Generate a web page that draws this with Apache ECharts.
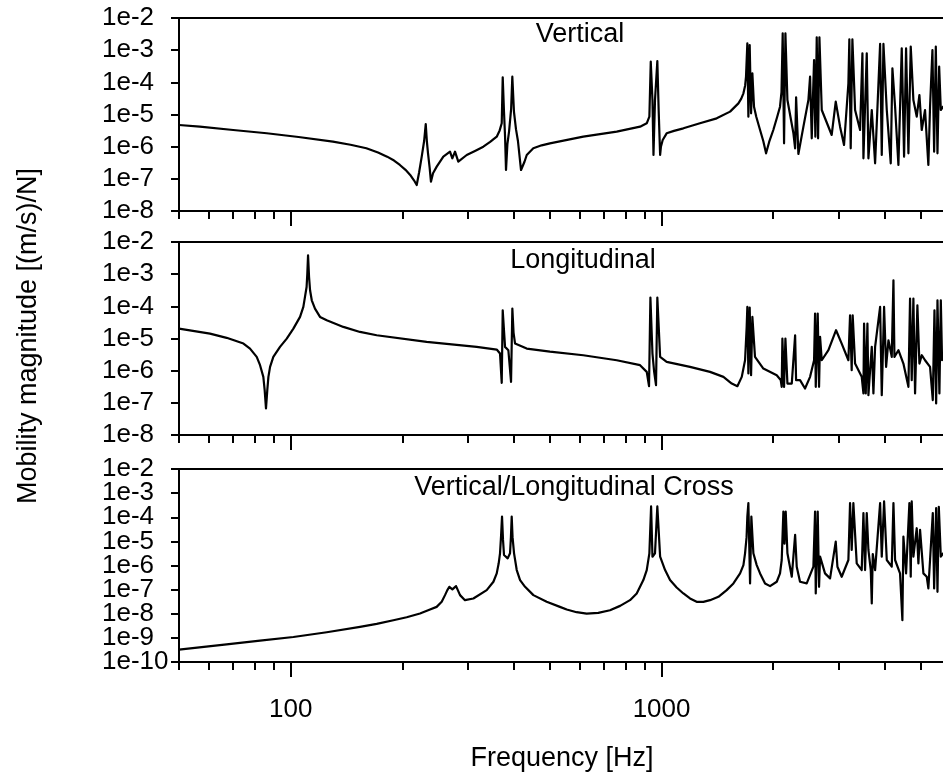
<!DOCTYPE html>
<html>
<head>
<meta charset="utf-8">
<script src="https://cdn.jsdelivr.net/npm/echarts@6/dist/echarts.min.js"></script>
<style>
  html, body { margin: 0; padding: 0; background: #fff; }
  #chart { width: 943px; height: 776px; }
</style>
</head>
<body>
<div id="chart"></div>
<script>
// Point mobility magnitudes [(m/s)/N] against frequency [Hz]

const vertFreq = [50, 56.9, 70, 86.2, 105, 130, 145, 160, 172, 182, 190, 197, 204, 210, 215, 218.7,
  222, 225.6, 229, 231.3, 233, 234.6, 237, 238.9, 242, 247.6, 258, 268.9, 272.8, 277.4, 283.1, 298.3,
  315, 330.7, 345, 359.4, 366, 370.7, 373, 376, 378.5, 380.7, 384, 388, 393, 395.9, 400, 405, 410,
  417.9, 427, 433, 451, 475, 500, 615, 757, 875, 912, 927, 935, 945, 951, 960, 974, 982, 991, 996,
  1007, 1032, 1080, 1145, 1269, 1408, 1530, 1611, 1640, 1662, 1680, 1689, 1703, 1714, 1728, 1743,
  1757, 1775, 1800, 1843, 1880, 1913, 1950, 2001, 2050, 2086, 2105, 2121, 2139, 2157, 2184,
  2267, 2291, 2305, 2338, 2412, 2488, 2514, 2540, 2577, 2598, 2620, 2642, 2664,
  2703, 2875, 2948, 3028, 3104, 3189, 3208, 3235, 3269, 3324, 3429, 3479, 3501, 3574, 3611, 3687, 3764,
  3883, 3923, 3964, 4047, 4148, 4191, 4261, 4350, 4441, 4506, 4562, 4629, 4696, 4774, 4874, 4956, 5028,
  5132, 5239, 5294, 5373, 5430, 5487, 5544, 5602, 5660, 5742, 5873];
const vertMag = [4.72e-6, 4.18e-6, 3.3e-6, 2.61e-6, 2.0e-6, 1.43e-6, 1.15e-6, 8.9e-7, 6.6e-7, 4.89e-7,
  3.7e-7, 2.7e-7, 1.9e-7, 1.32e-7, 9.0e-8, 6.44e-8,
  1.6e-7, 4.9e-7, 1.5e-6, 5.07e-6, 1.4e-6, 6.2e-7, 2.2e-7, 8.15e-8, 1.5e-7, 2.39e-7, 4.89e-7, 6.98e-7,
  4.35e-7, 6.98e-7, 3.41e-7, 5.51e-7,
  7.5e-7, 1.0e-6, 1.4e-6, 2.04e-6, 3.2e-6, 5.33e-6, 1.44e-4, 1.2e-5, 2e-6, 1.88e-7, 1.2e-6, 3e-6, 1.5e-5,
  1.5e-4, 1.2e-5, 3.5e-6, 1.5e-6,
  1.88e-7, 3.4e-7, 5.51e-7, 8.9e-7, 1.1e-6, 1.27e-6, 2.05e-6, 2.93e-6, 4.19e-6, 5.32e-6, 8.57e-6,
  4.39e-4, 2.83e-5, 5.51e-7, 2.83e-5, 4.61e-4, 1.38e-5, 5.51e-7, 1.0e-6,
  1.61e-6, 2.6e-6, 3.1e-6, 3.72e-6, 5.32e-6, 7.6e-6, 1.23e-5, 2.22e-5, 3.1e-5, 4.55e-5, 8e-5, 1.5e-4,
  1.63e-3, 8.57e-6, 1.45e-3, 1.09e-5,
  1.91e-4, 1.75e-5, 8.5e-6, 3.3e-6, 1.5e-6, 6.21e-7, 1.4e-6, 3.3e-6, 8.5e-6, 1.75e-5, 5e-5, 3.34e-3,
  1.27e-6, 3.34e-3, 2.83e-5,
  2.60e-6, 8.89e-7, 3.42e-5, 5.92e-7, 4.19e-6, 2.83e-5, 1.50e-4, 1.82e-6, 4.95e-4, 2.05e-6, 2.51e-3,
  1.82e-6, 2.51e-3,
  1.38e-5, 2.31e-6, 2.51e-5, 4.19e-6, 1.13e-6, 9.31e-5, 2.17e-3, 8.89e-7, 2.17e-3, 1.38e-5, 3.30e-6,
  7.97e-4, 4.34e-7, 7.97e-4, 4.34e-7, 1.38e-5, 3.04e-7,
  1.56e-3, 5.51e-7, 1.56e-3, 1.38e-5, 3.04e-7, 2.72e-4, 1.75e-5, 2.69e-7, 1.14e-3, 4.90e-7, 1.14e-3,
  6.21e-7, 1.29e-3, 2.83e-5, 8.57e-6, 4.04e-5, 3.30e-6,
  1.38e-5, 2.69e-7, 1.75e-5, 1.01e-3, 7.0e-7, 1.29e-3, 6.21e-7, 3.07e-4, 1.38e-5, 1.75e-5, 1.09e-5];

const longFreq = [50, 60.6, 67.2, 74.6, 77.7, 81.0, 82.7, 84.4, 85.1, 85.8, 86.5, 87.1, 88.0, 89.8,
  93.6, 97.6, 101.7, 106, 108.2, 109.3, 110.4, 110.9, 111.4, 112.1, 112.8, 114, 116.3, 120, 125.1,
  138.7, 153.8, 170.6, 232.6, 317.3, 359.4, 366.8, 370.7, 373, 378.4, 386.3, 392.8, 396, 399, 402.7,
  432.9, 500, 615, 757, 875, 912, 925, 933, 945, 955, 966, 974, 991, 1032, 1193, 1351, 1468, 1546,
  1601, 1645, 1679, 1696, 1703, 1714, 1728, 1743, 1757, 1786, 1881, 2044, 2095, 2108, 2117, 2139,
  2157, 2184, 2244, 2291, 2305, 2362, 2436, 2514, 2577, 2593, 2604, 2636, 2658, 2675, 2703, 2817,
  2954, 3059, 3189, 3222, 3255, 3275, 3324, 3464, 3501, 3515, 3552, 3589, 3611, 3649, 3687, 3725,
  3764, 3883, 3923, 3980, 4030, 4089, 4174, 4218, 4244, 4350, 4487, 4629, 4676, 4725, 4774, 4824,
  4894, 4956, 5028, 5132, 5294, 5385, 5441, 5498, 5544, 5611, 5660, 5704, 5742, 5873];
const longMag = [2.03e-5, 1.42e-5, 1.05e-5, 6.96e-6, 4.86e-6, 2.68e-6, 1.48e-6, 6.42e-7, 2.47e-7,
  6.67e-8, 2.47e-7, 6.42e-7, 1.31e-6, 2.68e-6,
  5.48e-6, 9.95e-6, 2.03e-5, 4.69e-5, 9.57e-5, 1.96e-4, 4.0e-4, 1.04e-3, 3.86e-3, 8.18e-4, 3.16e-4,
  1.54e-4, 8.5e-5, 4.69e-5, 3.69e-5,
  2.29e-5, 1.6e-5, 1.26e-5, 7.84e-6, 5.48e-6, 4.53e-6, 3.40e-6, 4.18e-7, 7.55e-5, 5.48e-6, 4.32e-6,
  4.49e-7, 8.51e-5, 1.5e-5, 6.96e-6,
  4.86e-6, 3.9e-6, 3.02e-6, 2.11e-6, 1.48e-6, 9.18e-7, 3.29e-7, 1.87e-4, 3.40e-6, 9.18e-7, 3.54e-7,
  1.87e-4, 2.68e-6, 1.88e-6, 1.31e-6, 9.18e-7, 6.42e-7, 3.98e-7,
  3.29e-7, 6.42e-7, 2.11e-6, 2.29e-5, 9.57e-5, 8.15e-7, 9.14e-5, 7.23e-7, 4.69e-5, 2.68e-6, 1.16e-6,
  7.23e-7, 5.06e-7, 3.14e-7, 9.95e-6, 3.14e-7,
  9.95e-6, 3.98e-7, 3.98e-7, 1.26e-5, 5.06e-7, 5.06e-7, 2.79e-7, 6.42e-7, 2.11e-6, 5.95e-5, 3.14e-7,
  5.95e-5, 3.14e-7, 1.12e-5, 2.11e-6, 4.32e-6,
  1.81e-5, 6.96e-6, 2.11e-6, 5.28e-5, 1.03e-6, 5.28e-5, 1.66e-6, 6.42e-7, 1.95e-7, 2.91e-5, 1.95e-7,
  2.91e-5, 1.73e-7, 1.03e-6, 5.48e-6, 1.95e-7,
  5.48e-6, 9.57e-5, 1.73e-7, 9.57e-5, 1.31e-6, 8.83e-6, 2.68e-6, 6.45e-4, 2.68e-6, 4.32e-6, 1.66e-6,
  3.14e-7, 1.74e-4, 5.06e-7, 1.74e-4, 1.95e-7,
  1.08e-4, 1.66e-6, 3.02e-6, 2.11e-6, 1.31e-6, 1.21e-7, 7.55e-5, 9.53e-8, 1.54e-4, 1.95e-7, 1.54e-4,
  2.11e-6, 3.02e-6, 2.5e-6];

const crossFreq = [50, 67.2, 82.7, 101.7, 125.1, 153.8, 170.6, 189.2, 205.5, 223.2, 237.5, 247.5,
  255.4, 260.7, 264.5, 267.8, 272.9, 279.2, 286.2, 295.1, 310.9, 337.7, 352.1, 359.4, 363.8, 366.8,
  369.1, 371.4, 373.7, 376, 384.7, 390.3, 392.5, 394.4, 396.5, 400.2, 406.9, 415.4, 428.5, 451.2,
  490, 532, 555, 590, 628, 675, 726, 773, 822, 857, 893, 912, 927, 937, 945, 960, 974, 991, 1022,
  1054, 1098, 1145, 1193, 1243, 1296, 1351, 1423, 1498, 1562, 1628, 1662, 1679, 1695, 1703, 1714,
  1732, 1746, 1768, 1805, 1843, 1901, 1961, 2044, 2086, 2108, 2130, 2145, 2161, 2184, 2244, 2291,
  2314, 2362, 2462, 2566, 2593, 2604, 2636, 2658, 2675, 2758, 2846, 2948, 2979, 3059, 3189, 3222,
  3255, 3289, 3358, 3464, 3501, 3537, 3574, 3611, 3664, 3687, 3710, 3764, 3883, 3923, 3980, 4047,
  4174, 4218, 4261, 4394, 4459, 4487, 4562, 4657, 4696, 4725, 4774, 4874, 4925, 4976, 5080, 5187,
  5239, 5294, 5385, 5430, 5498, 5544, 5590, 5660, 5742, 5873];
const crossMag = [3.24e-10, 5.40e-10, 7.67e-10, 1.09e-9, 1.71e-9, 2.84e-9, 3.79e-9, 5.38e-9, 7.18e-9,
  1.02e-8, 1.5e-8, 1.93e-8,
  3.12e-8, 5.91e-8, 9.53e-8, 1.31e-7, 1.02e-7, 1.40e-7, 5.91e-8, 3.66e-8, 4.29e-8, 9.53e-8, 2.12e-7,
  4.71e-7, 1.23e-6, 3.20e-6,
  1.58e-5, 1.07e-4, 1.15e-5, 2.72e-6, 1.98e-6, 3.20e-6, 1.5e-5, 1.07e-4, 1.5e-5, 3.20e-6, 6.48e-7,
  2.48e-7, 1.31e-7, 5.91e-8,
  3.12e-8, 1.93e-8, 1.5e-8, 1.16e-8, 1.02e-8, 1.09e-8, 1.40e-8, 2.12e-8, 3.66e-8, 6.92e-8, 2.48e-7,
  6.48e-7, 3.20e-6, 2.80e-4, 2.3e-6, 3.20e-6, 2.80e-4, 2.32e-6, 6.48e-7,
  2.48e-7, 1.23e-7, 6.92e-8, 4.29e-8, 3.12e-8, 3.12e-8, 3.66e-8, 5.03e-8, 9.53e-8, 1.81e-7, 4.71e-7,
  1.04e-6, 3.20e-6, 1.5e-5, 1.07e-4, 3.85e-4,
  1.81e-7, 1.07e-4, 3.20e-6, 1.04e-6, 4.71e-7, 1.81e-7, 1.40e-7, 2.12e-7, 4.71e-7, 1.69e-6, 1.73e-4,
  8e-6, 1.73e-4, 3.20e-6, 3.42e-7, 1.85e-5,
  8.91e-7, 2.12e-7, 1.81e-7, 8.91e-7, 1.73e-4, 6.92e-8, 1.73e-4, 1.31e-7, 2.32e-6, 4.71e-7, 2.92e-7,
  9.77e-6, 8.91e-7, 3.42e-7, 1.69e-6, 3.85e-4,
  4.40e-6, 3.85e-4, 1.23e-6, 6.48e-7, 1.48e-4, 6.48e-7, 1.48e-4, 4.40e-6, 6.48e-7, 2.66e-8, 3e-6,
  6.48e-7, 3.85e-4, 2.32e-6, 4.52e-4, 1.69e-6,
  8.91e-7, 3.85e-4, 1.69e-6, 4.71e-7, 5.38e-9, 1.58e-5, 4.71e-7, 3.85e-4, 3.42e-7, 4.52e-4, 2.32e-6,
  3.51e-5, 1.23e-6, 2.99e-5, 4.71e-7, 3.42e-7,
  1.12e-7, 1.69e-6, 1.48e-4, 1.12e-7, 2.38e-4, 8.13e-8, 2.7e-4, 2.32e-6, 3.20e-6, 2.5e-6];

// Axis ticks
const xMajorTicks = [100, 1000, 10000];
const xMinorTicks = [50, 60, 70, 80, 90, 200, 300, 400, 500, 600, 700, 800, 900,
  2000, 3000, 4000, 5000, 6000, 7000, 8000, 9000];
const yRangeUpper = [1e-8, 1e-2];
const yRangeCross = [1e-10, 1e-2];
// odd decades of the cross panel, labelled by a second axis so the tightly packed labels all show
const yOddDecadesCross = [1e-9, 1e-7, 1e-5, 1e-3];

const panelTitles = ['Vertical', 'Longitudinal', 'Vertical/Longitudinal Cross'];
const xTitle = 'Frequency [Hz]';
const yTitle = 'Mobility magnitude [(m/s)/N]';

const FONT = '"Liberation Sans", Arial, Helvetica, sans-serif';
const BLACK = '#000';

const panels = [
  { freq: vertFreq, mag: vertMag, yRange: yRangeUpper, top: 18, height: 193, titleX: 580, titleY: 35, split: false },
  { freq: longFreq, mag: longMag, yRange: yRangeUpper, top: 242, height: 193, titleX: 583, titleY: 261, split: false },
  { freq: crossFreq, mag: crossMag, yRange: yRangeCross, top: 469, height: 193, titleX: 574, titleY: 488, split: true }
];

// plot area runs past the right edge of the canvas (x axis up to 10 kHz)
const PLOT_LEFT = 179;
const PLOT_WIDTH = 853.5;

const decadeOf = v => Math.round(Math.log10(v));
const yLabelStyle = {
  show: true, align: 'left', margin: 77, color: BLACK,
  fontSize: 26, lineHeight: 20, fontFamily: FONT, hideOverlap: false
};

const grid = [], xAxis = [], yAxis = [], series = [], graphic = [];

panels.forEach((p, i) => {
  const last = i === panels.length - 1;
  grid.push({
    left: PLOT_LEFT, top: p.top, width: PLOT_WIDTH, height: p.height,
    containLabel: false, outerBoundsMode: 'none',
    show: true, borderColor: BLACK, borderWidth: 2, backgroundColor: 'transparent'
  });
  // minor ticks
  xAxis.push({
    type: 'log', logBase: 10, gridIndex: i, min: 50, max: 10000, position: 'bottom',
    axisLine: { show: true, lineStyle: { color: BLACK, width: 2 } },
    axisTick: { show: true, inside: false, length: 8, lineStyle: { color: BLACK, width: 2 },
      customValues: xMinorTicks },
    axisLabel: { show: false },
    splitLine: { show: false }
  });
  // major ticks and labels
  xAxis.push({
    type: 'log', logBase: 10, gridIndex: i, min: 50, max: 10000, position: 'bottom',
    axisLine: { show: false },
    axisTick: { show: true, inside: false, length: 15, lineStyle: { color: BLACK, width: 2 },
      customValues: xMajorTicks },
    axisLabel: { show: last, customValues: xMajorTicks, margin: 35, color: BLACK,
      fontSize: 26, fontFamily: FONT, formatter: v => String(Math.round(v)) },
    splitLine: { show: false }
  });
  yAxis.push({
    type: 'log', logBase: 10, gridIndex: i, position: 'left',
    min: p.yRange[0], max: p.yRange[1],
    axisLine: { show: true, lineStyle: { color: BLACK, width: 2 } },
    axisTick: { show: true, inside: false, length: 8, lineStyle: { color: BLACK, width: 2 } },
    axisLabel: Object.assign({}, yLabelStyle, {
      showMinLabel: true, showMaxLabel: true,
      formatter: v => (p.split && decadeOf(v) % 2 !== 0) ? '' : '1e' + decadeOf(v)
    }),
    splitLine: { show: false }
  });
  series.push({
    type: 'line', xAxisIndex: 2 * i, yAxisIndex: i,
    data: p.freq.map((f, k) => [f, p.mag[k]]),
    showSymbol: false, symbol: 'none', smooth: false,
    lineStyle: { color: BLACK, width: 2.2, join: 'round' },
    clip: true
  });
  graphic.push({
    type: 'text', x: p.titleX, y: p.titleY, z: 10,
    style: { text: panelTitles[i], fill: BLACK, font: '27px ' + FONT,
      textAlign: 'center', textVerticalAlign: 'middle' }
  });
});

// labels for the odd decades of the cross panel
yAxis.push({
  type: 'log', logBase: 10, gridIndex: 2, position: 'left',
  min: yRangeCross[0], max: yRangeCross[1],
  axisLine: { show: false }, axisTick: { show: false },
  axisLabel: Object.assign({}, yLabelStyle, {
    customValues: yOddDecadesCross,
    formatter: v => '1e' + decadeOf(v)
  }),
  splitLine: { show: false }
});

graphic.push({
  type: 'text', x: 562, y: 759,
  style: { text: xTitle, fill: BLACK, font: '27px ' + FONT, textAlign: 'center', textVerticalAlign: 'middle' }
});
graphic.push({
  type: 'text', x: 29, y: 336, rotation: Math.PI / 2,
  style: { text: yTitle, fill: BLACK, font: '27px ' + FONT, textAlign: 'center', textVerticalAlign: 'middle' }
});

const chart = echarts.init(document.getElementById('chart'), null, { renderer: 'canvas' });
chart.setOption({
  animation: false,
  backgroundColor: '#fff',
  grid, xAxis, yAxis, series, graphic
});
</script>
</body>
</html>
